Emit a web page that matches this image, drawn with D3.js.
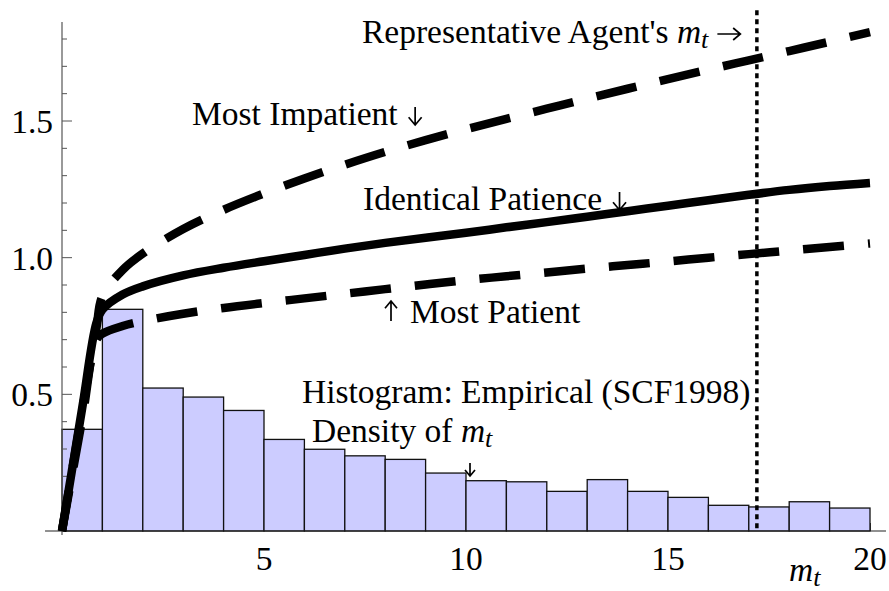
<!DOCTYPE html>
<html>
<head>
<meta charset="utf-8">
<script src="https://cdn.jsdelivr.net/npm/d3@7"></script>
<style>
  html, body { margin: 0; padding: 0; background: #fff; }
  svg { display: block; font-family: "Liberation Serif", "Times New Roman", serif; }
</style>
</head>
<body>
<svg id="chart" width="889" height="591"></svg>
<script>
/// data ///
// histogram: lower edge of each bin (width 1) and empirical density
const binLo = [0, 1, 2, 3, 4, 5, 6, 7, 8, 9, 10, 11, 12, 13, 14, 15, 16, 17, 18, 19];
const density = [0.372, 0.811, 0.523, 0.490, 0.441, 0.335, 0.299, 0.275, 0.262, 0.212,
                 0.184, 0.180, 0.145, 0.188, 0.145, 0.123, 0.094, 0.088, 0.107, 0.084];

// consumption functions c(m)
const mGrid = [0, 0.5, 0.85, 1.0, 1.5, 2, 3, 4, 5, 6, 7, 8, 9, 10, 11, 12, 13, 14, 15, 16, 17, 18, 19, 20];
const cImpatient = [0, 0.44, 0.74, 0.86, 0.955, 1.015, 1.105, 1.175, 1.235, 1.29, 1.34, 1.387, 1.43, 1.47,
                    1.508, 1.545, 1.582, 1.618, 1.653, 1.688, 1.722, 1.756, 1.79, 1.825];
const cIdentical = [0, 0.45, 0.76, 0.81, 0.865, 0.895, 0.935, 0.963, 0.987, 1.01, 1.033, 1.054, 1.073, 1.091,
                    1.111, 1.13, 1.15, 1.17, 1.19, 1.21, 1.23, 1.248, 1.262, 1.273];
const cPatient = [0, 0.41, 0.70, 0.722, 0.75, 0.768, 0.795, 0.816, 0.834, 0.851, 0.868, 0.885, 0.902, 0.918,
                  0.932, 0.946, 0.96, 0.973, 0.986, 1.0, 1.013, 1.026, 1.039, 1.052];

// representative agent's m
const repAgentM = 17.2;

// ticks
const xTicks = [5, 10, 15, 20];
const yMajor = [0.5, 1.0, 1.5];
const yMinor = [0.1, 0.2, 0.3, 0.4, 0.6, 0.7, 0.8, 0.9, 1.1, 1.2, 1.3, 1.4, 1.6, 1.7, 1.8];

/// constants ///
const barFill = "#ccccff";
const lineWidth = 8.5;
const fontSize = 33.5;

const svg = d3.select("#chart");

/// scales ///
const x = d3.scaleLinear().domain([0, 20]).range([62, 870]);
const y = d3.scaleLinear().domain([0, 1.5]).range([531, 121]);

// x axis ticks (inward, mostly hidden behind the bars)
svg.append("g")
  .attr("transform", `translate(0, ${y(0)})`)
  .call(d3.axisBottom(x).tickValues(xTicks).tickSize(-8).tickFormat(""))
  .call(g => g.select(".domain").remove())
  .call(g => g.selectAll("line").attr("stroke", "#444"));

/// histogram ///
svg.append("g")
  .selectAll("rect")
  .data(binLo)
  .join("rect")
    .attr("x", d => x(d))
    .attr("width", d => x(d + 1) - x(d))
    .attr("y", (d, i) => y(density[i]))
    .attr("height", (d, i) => y(0) - y(density[i]))
    .attr("fill", barFill)
    .attr("stroke", "#111")
    .attr("stroke-width", 1.3);

/// axes ///
// x axis line, slightly past both ends
svg.append("line")
  .attr("x1", x(-0.42)).attr("x2", 886)
  .attr("y1", y(0)).attr("y2", y(0))
  .attr("stroke", "#222").attr("stroke-width", 1.2);

// y axis
svg.append("line")
  .attr("x1", x(0)).attr("x2", x(0))
  .attr("y1", y(1.862)).attr("y2", y(-0.015))
  .attr("stroke", "#555").attr("stroke-width", 1.2);

svg.append("g")
  .selectAll("line")
  .data(yMinor)
  .join("line")
    .attr("x1", x(0)).attr("x2", x(0) + 5)
    .attr("y1", d => y(d)).attr("y2", d => y(d))
    .attr("stroke", "#555").attr("stroke-width", 1);

svg.append("g")
  .selectAll("line")
  .data(yMajor)
  .join("line")
    .attr("x1", x(0)).attr("x2", x(0) + 10)
    .attr("y1", d => y(d)).attr("y2", d => y(d))
    .attr("stroke", "#555").attr("stroke-width", 1);

svg.append("g")
  .selectAll("text")
  .data(yMajor)
  .join("text")
    .attr("x", 53)
    .attr("y", d => y(d) + 12)
    .attr("text-anchor", "end")
    .attr("font-size", fontSize)
    .text(d => d.toFixed(1));

svg.append("g")
  .selectAll("text")
  .data(xTicks)
  .join("text")
    .attr("x", d => x(d))
    .attr("y", 570)
    .attr("text-anchor", "middle")
    .attr("font-size", fontSize)
    .text(d => d);

/// consumption functions ///
const line = series => d3.line()
  .x((d, i) => x(mGrid[i]))
  .y(d => y(d))
  .curve(d3.curveCatmullRom.alpha(0.5))(series);

svg.append("path")
  .attr("d", line(cPatient))
  .attr("fill", "none")
  .attr("stroke", "#000")
  .attr("stroke-width", lineWidth)
  .attr("stroke-dasharray", "41,24");

svg.append("path")
  .attr("d", line(cImpatient))
  .attr("fill", "none")
  .attr("stroke", "#000")
  .attr("stroke-width", lineWidth)
  .attr("stroke-dasharray", "41,24");

svg.append("path")
  .attr("d", line(cIdentical))
  .attr("fill", "none")
  .attr("stroke", "#000")
  .attr("stroke-width", lineWidth);

// representative agent's m (dotted)
svg.append("line")
  .attr("x1", x(repAgentM)).attr("x2", x(repAgentM))
  .attr("y1", y(1.905)).attr("y2", y(0))
  .attr("stroke", "#000")
  .attr("stroke-width", 3.5)
  .attr("stroke-dasharray", "5,4");

/// labels ///
// thin arrows drawn as paths (the fonts' arrow glyphs are too small)
function drawArrow(dir, x0, base, len, head) {
  let d;
  if (dir === "down") {
    const cx = x0 + head;
    d = `M${cx},${base - len}V${base}M${cx - head},${base - head * 1.2}L${cx},${base}L${cx + head},${base - head * 1.2}`;
  } else if (dir === "up") {
    const cx = x0 + head, top = base - len - 2;
    d = `M${cx},${base - 2}V${top}M${cx - head},${top + head * 1.2}L${cx},${top}L${cx + head},${top + head * 1.2}`;
  } else {
    const cy = base - 9;
    d = `M${x0},${cy}H${x0 + len}M${x0 + len - head * 1.2},${cy - head}L${x0 + len},${cy}L${x0 + len - head * 1.2},${cy + head}`;
  }
  svg.append("path")
    .attr("d", d)
    .attr("fill", "none")
    .attr("stroke", "#000")
    .attr("stroke-width", 1.7);
}

// a label made of text pieces, italic m_t and arrows, laid out left to right
function label(xPos, yPos, parts) {
  let cx = xPos;
  parts.forEach(p => {
    if (p === "down") {
      cx += 11; drawArrow("down", cx, yPos, 18, 6.5); cx += 13;
    } else if (p === "up") {
      drawArrow("up", cx, yPos, 20, 6); cx += 25;
    } else if (p === "right") {
      cx += 9; drawArrow("right", cx, yPos, 23, 6); cx += 23;
    } else {
      const t = svg.append("text")
        .attr("x", cx).attr("y", yPos)
        .attr("font-size", fontSize);
      if (p === "m_t") {
        t.append("tspan").attr("font-style", "italic").text("m");
        t.append("tspan").attr("font-style", "italic").attr("font-size", fontSize * 0.78)
          .attr("dy", 5).text("t");
      } else {
        t.text(p.trimEnd());
      }
      cx += t.node().getComputedTextLength();
      // trailing spaces are collapsed, so add them back by hand
      if (p !== "m_t" && p.endsWith(" ")) cx += fontSize * 0.25;
    }
  });
}

label(362, 43, ["Representative Agent's ", "m_t", "right"]);
label(192, 125, ["Most Impatient", "down"]);
label(363, 210, ["Identical Patience", "down"]);
label(385, 323, ["up", "Most Patient"]);
label(302, 403, ["Histogram: Empirical (SCF1998)"]);
label(312, 442, ["Density of ", "m_t"]);

// small arrow under "Density of m_t"
drawArrow("down", 465, 476, 13, 5);

// x axis label
label(789, 581, ["m_t"]);
</script>
</body>
</html>
